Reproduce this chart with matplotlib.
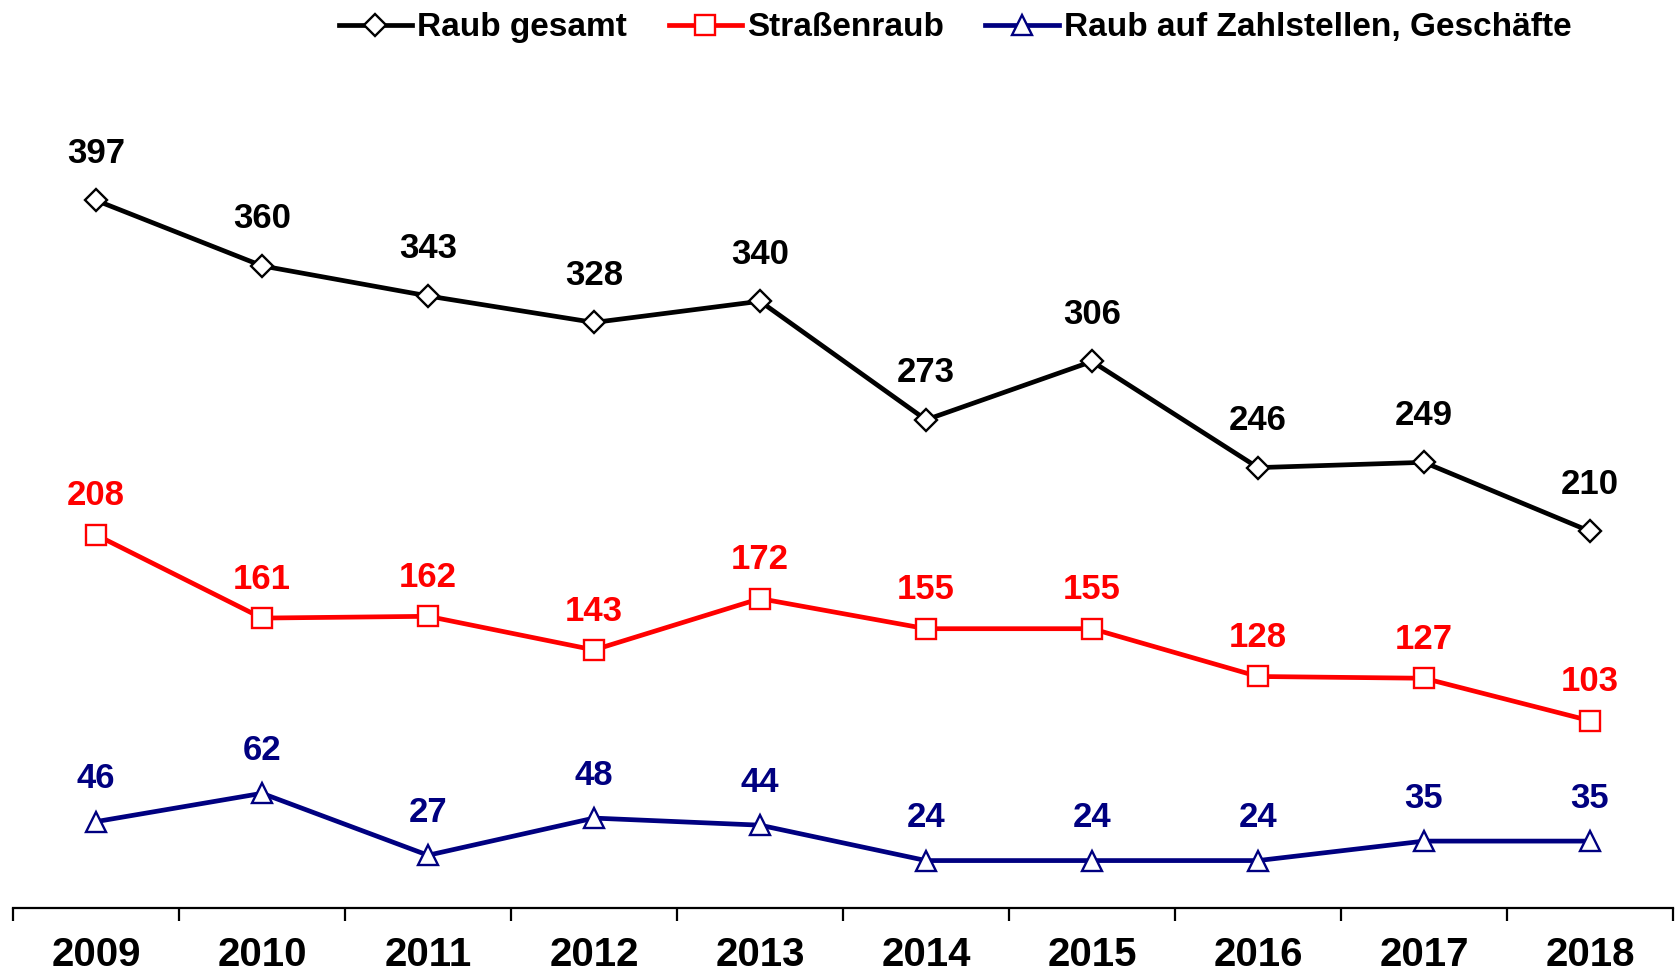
import matplotlib.pyplot as plt

plt.rcParams['font.family'] = ['Liberation Sans', 'DejaVu Sans']
plt.rcParams['font.weight'] = 'bold'

# Daten
jahre = ['2009', '2010', '2011', '2012', '2013', '2014', '2015', '2016', '2017', '2018']
raub_gesamt = [397, 360, 343, 328, 340, 273, 306, 246, 249, 210]
strassenraub = [208, 161, 162, 143, 172, 155, 155, 128, 127, 103]
zahlstellen = [46, 62, 27, 48, 44, 24, 24, 24, 35, 35]

serien = [
    ("Raub gesamt", raub_gesamt, 'black', 'D', 11.5, 34),
    ("Straßenraub", strassenraub, '#FF0000', 's', 15, 28),
    ("Raub auf Zahlstellen, Geschäfte", zahlstellen, '#000080', '^', 15, 31),
]

fig = plt.figure(figsize=(16.8, 9.73), dpi=100)
ax = fig.add_axes([13 / 1680, 0.0668, 1660 / 1680, 0.8237])

x = list(range(len(jahre)))
for name, werte, farbe, marker, ms, off in serien:
    ax.plot(x, werte, color=farbe, linewidth=3.4, marker=marker, markersize=ms,
            markerfacecolor='white', markeredgecolor=farbe, markeredgewidth=1.7,
            label=name, zorder=3)
    for xi, v in zip(x, werte):
        ax.annotate(str(v), (xi, v), xytext=(0, off), textcoords='offset points',
                    ha='center', va='center', fontsize=25, fontweight='bold',
                    color=farbe)

ax.set_xlim(-0.5, len(jahre) - 0.5)
ax.set_ylim(-2.8, 450)

# Achsen
for s in ['top', 'right', 'left']:
    ax.spines[s].set_visible(False)
ax.spines['bottom'].set_linewidth(1.6)
ax.set_yticks([])
ax.set_xticks([i - 0.5 for i in range(len(jahre) + 1)])
ax.set_xticklabels([])
ax.tick_params(axis='x', which='major', length=9, width=1.6, direction='out')
ax.set_xticks(x, minor=True)
ax.set_xticklabels(jahre, minor=True, fontsize=29, fontweight='bold')
ax.tick_params(axis='x', which='minor', length=0, pad=20)

fig.legend(loc='upper center', bbox_to_anchor=(955 / 1680, 1.018), ncol=3,
           frameon=False, handlelength=2.2, columnspacing=1.25,
           handletextpad=0.15, prop={'weight': 'bold', 'size': 24})

plt.savefig('out.png', dpi=100, facecolor='white')
